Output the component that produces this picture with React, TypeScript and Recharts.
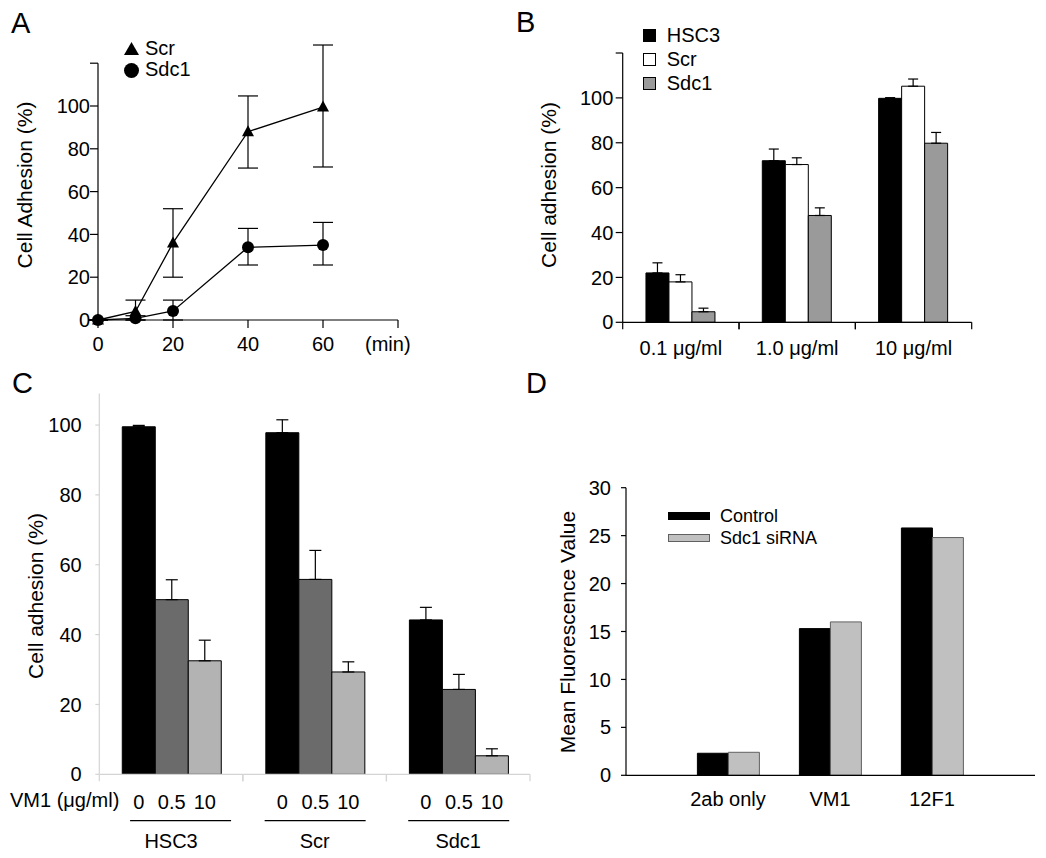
import React from 'react';
import {
  ComposedChart, BarChart, Bar, Line, XAxis, YAxis, ErrorBar, Legend, LabelList, ReferenceLine,
} from 'recharts';

const FONT = '"Liberation Sans", Arial, Helvetica, sans-serif';

// ---- Panel A: adhesion time course ----
const timePoints = [0, 10, 20, 40, 60];
const timeTicks = [0, 20, 40, 60, 80];
const scrMean = [0, 4, 36, 88, 99.5];
const scrError = [[0, 0], [4, 5.3], [16, 16], [17, 16.7], [28, 29]];
const sdc1Mean = [0, 0.8, 4.2, 34, 35];
const sdc1Error = [[0, 0], [0.8, 1.2], [4.2, 5.1], [8.3, 8.8], [9.3, 10.6]];
const adhesionTicks = [0, 20, 40, 60, 80, 100, 120];

// ---- Panel B: coating concentration ----
const coatingLevels = ['0.1 μg/ml', '1.0 μg/ml', '10 μg/ml'];
const hsc3ByCoating = [22, 72, 99.8];
const hsc3ByCoatingErr = [4.5, 5.2, 0.3];
const scrByCoating = [18, 70.3, 105.2];
const scrByCoatingErr = [3.2, 3, 3.2];
const sdc1ByCoating = [4.7, 47.6, 79.8];
const sdc1ByCoatingErr = [1.6, 3.4, 4.8];

// ---- Panel C: VM1 blocking ----
const cellLines = ['HSC3', 'Scr', 'Sdc1'];
const vm1Doses = ['0', '0.5', '10'];
const vm1Dose0 = [99.5, 97.8, 44.2];
const vm1Dose0Err = [0.4, 3.7, 3.6];
const vm1Dose05 = [50, 55.8, 24.3];
const vm1Dose05Err = [5.7, 8.3, 4.3];
const vm1Dose10 = [32.5, 29.3, 5.3];
const vm1Dose10Err = [5.9, 2.9, 2];
const blockingTicks = [0, 20, 40, 60, 80, 100];

// ---- Panel D: mean fluorescence ----
const antibodies = ['2ab only', 'VM1', '12F1'];
const controlMfi = [2.3, 15.3, 25.8];
const sirnaMfi = [2.4, 16, 24.8];
const mfiTicks = [0, 5, 10, 15, 20, 25, 30];

const timeData = timePoints.map((t, i) => ({
  time: t, scr: scrMean[i], scrErr: scrError[i], sdc1: sdc1Mean[i], sdc1Err: sdc1Error[i],
}));

const coatingData = coatingLevels.map((name, i) => ({
  name,
  hsc3: hsc3ByCoating[i], hsc3Err: [0, hsc3ByCoatingErr[i]],
  scr: scrByCoating[i], scrErr: [0, scrByCoatingErr[i]],
  sdc1: sdc1ByCoating[i], sdc1Err: [0, sdc1ByCoatingErr[i]],
}));

const blockingData = cellLines.map((name, i) => ({
  name,
  d0: vm1Dose0[i], d0Err: [0, vm1Dose0Err[i]],
  d05: vm1Dose05[i], d05Err: [0, vm1Dose05Err[i]],
  d10: vm1Dose10[i], d10Err: [0, vm1Dose10Err[i]],
}));

const mfiData = antibodies.map((name, i) => ({ name, control: controlMfi[i], sirna: sirnaMfi[i] }));

const black = { stroke: '#000', strokeWidth: 1.2 };
const grey = { stroke: '#d4d4d4', strokeWidth: 1.2 };
const tickText = { fill: '#000', fontSize: 20 };
const hideTop = (top: number) => (v: number) => (v === top ? '' : String(v));

const triangleDot = (props: any) => {
  const { cx, cy, index } = props;
  if (cx == null || cy == null) return <g key={`t${index}`} />;
  return (
    <polygon key={`t${index}`} fill="#000"
      points={`${cx},${cy - 6.5} ${cx - 6},${cy + 4.5} ${cx + 6},${cy + 4.5}`} />
  );
};

const TimeLegend = () => (
  <div style={{ fontSize: 20, lineHeight: '21.5px' }}>
    <div style={{ display: 'flex', alignItems: 'center', height: 21.5 }}>
      <svg width={15} height={14}><polygon points="7.5,0 0,13 15,13" fill="#000" /></svg>
      <span style={{ marginLeft: 6 }}>Scr</span>
    </div>
    <div style={{ display: 'flex', alignItems: 'center', height: 21.5 }}>
      <svg width={15} height={15}><circle cx={7.5} cy={7.5} r={7.5} fill="#000" /></svg>
      <span style={{ marginLeft: 6 }}>Sdc1</span>
    </div>
  </div>
);

const coatingSeries = [
  { key: 'hsc3', name: 'HSC3', fill: '#000' },
  { key: 'scr', name: 'Scr', fill: '#fff' },
  { key: 'sdc1', name: 'Sdc1', fill: '#9a9a9a' },
];

const CoatingLegend = () => (
  <div style={{ fontSize: 20 }}>
    {coatingSeries.map((s) => (
      <div key={s.key} style={{ display: 'flex', alignItems: 'center', height: 24, lineHeight: '24px' }}>
        <div style={{ width: 13, height: 13, boxSizing: 'border-box', background: s.fill, border: '1px solid #000' }} />
        <span style={{ marginLeft: 11 }}>{s.name}</span>
      </div>
    ))}
  </div>
);

const mfiSeries = [
  { key: 'control', name: 'Control', fill: '#000', stroke: '#000' },
  { key: 'sirna', name: 'Sdc1 siRNA', fill: '#c0c0c0', stroke: '#606060' },
];

const MfiLegend = () => (
  <div style={{ fontSize: 18 }}>
    {mfiSeries.map((s) => (
      <div key={s.key} style={{ display: 'flex', alignItems: 'center', height: 22, lineHeight: '22px' }}>
        <div style={{ width: 42, height: 8, boxSizing: 'border-box', background: s.fill, border: `1px solid ${s.stroke}` }} />
        <span style={{ marginLeft: 10 }}>{s.name}</span>
      </div>
    ))}
  </div>
);

// B: label in the band centre, tick marks on both band edges (payload.offset = half band)
const CoatingTick = (props: any) => {
  const { x, y, payload } = props;
  const half = payload.offset ?? 0;
  return (
    <g>
      <line x1={x - half} x2={x - half} y1={y} y2={y + 7} {...black} />
      <line x1={x + half} x2={x + half} y1={y} y2={y + 7} {...black} />
      <text x={x} y={y + 18} dy="0.71em" textAnchor="middle" fontSize={20} fill="#000">{payload.value}</text>
    </g>
  );
};

// C: grey edge ticks, underline + cell line name in the band centre
const GroupTick = (props: any) => {
  const { x, y, payload, index } = props;
  const half = payload.offset ?? 0;
  // the first underline sits a bit to the right, clear of the "VM1" caption
  const from = index === 0 ? -41 : -50;
  const to = index === 0 ? 60 : 51;
  return (
    <g>
      <line x1={x - half} x2={x - half} y1={y} y2={y + 7} {...grey} />
      <line x1={x + half} x2={x + half} y1={y} y2={y + 7} {...grey} />
      <line x1={x + from} x2={x + to} y1={y + 46.4} y2={y + 46.4} stroke="#000" strokeWidth={1.3} />
      <text x={x} y={y + 73.3} textAnchor="middle" fontSize={20} fill="#000">{payload.value}</text>
    </g>
  );
};

const legendPos = (left: number, top: number) => ({ left, top, width: 'auto', height: 'auto' });

export default function App() {
  return (
    <div style={{ position: 'absolute', left: 0, top: 0, width: 1046, height: 858, background: '#fff', fontFamily: FONT, color: '#000' }}>

      {/* A */}
      <div style={{ position: 'absolute', left: 0, top: 0 }}>
        <ComposedChart width={430} height={370} data={timeData} margin={{ top: 41.8, right: 32, bottom: 20, left: 38 }}>
          <XAxis dataKey="time" type="number" domain={[0, 80]} ticks={timeTicks} interval={0} height={30}
            tickFormatter={hideTop(80)} tickSize={8} tickMargin={9} tick={tickText} axisLine={black} tickLine={black} />
          <YAxis type="number" domain={[0, 130]} ticks={adhesionTicks} interval={0} width={60}
            tickFormatter={hideTop(120)} tickSize={8} tickMargin={0} tick={tickText} axisLine={false} tickLine={black} />
          <ReferenceLine segment={[{ x: 0, y: 0 }, { x: 0, y: 120 }]} stroke="#000" strokeWidth={1.2} />
          <Legend layout="vertical" align="center" verticalAlign="middle" wrapperStyle={legendPos(124, 37.75)} content={TimeLegend} />
          <Line dataKey="scr" type="linear" stroke="#000" strokeWidth={1.3} dot={triangleDot} isAnimationActive={false}>
            <ErrorBar dataKey="scrErr" direction="y" width={10} stroke="#000" strokeWidth={1.2} />
          </Line>
          <Line dataKey="sdc1" type="linear" stroke="#000" strokeWidth={1.3} isAnimationActive={false}
            dot={{ r: 6, fill: '#000', stroke: 'none' }}>
            <ErrorBar dataKey="sdc1Err" direction="y" width={10} stroke="#000" strokeWidth={1.2} />
          </Line>
        </ComposedChart>
      </div>

      {/* B */}
      <div style={{ position: 'absolute', left: 510, top: 0 }}>
        <BarChart width={536} height={370} data={coatingData} margin={{ top: 53, right: 74.3, bottom: 7.7, left: 62.7 }}
          barCategoryGap="20%" barGap={0}>
          <XAxis dataKey="name" height={40} interval={0} tick={CoatingTick} tickLine={false} tickSize={0} tickMargin={0}
            axisLine={black} />
          <YAxis domain={[0, 120]} ticks={adhesionTicks} interval={0} width={50} tickFormatter={hideTop(120)}
            tickSize={7} tickMargin={2.4} tick={tickText} axisLine={black} tickLine={black} />
          <Legend layout="vertical" align="center" verticalAlign="middle" wrapperStyle={legendPos(132.7, 23)} content={CoatingLegend} />
          {coatingSeries.map((s) => (
            <Bar key={s.key} dataKey={s.key} fill={s.fill} stroke="#000" strokeWidth={1} isAnimationActive={false}>
              <ErrorBar dataKey={`${s.key}Err`} direction="y" width={5} stroke="#000" strokeWidth={1.2} />
            </Bar>
          ))}
        </BarChart>
      </div>

      {/* C */}
      <div style={{ position: 'absolute', left: 0, top: 380 }}>
        <BarChart width={540} height={478} data={blockingData} margin={{ top: 13.6, right: 10, bottom: 3.7, left: 39.3 }}
          barCategoryGap="16%" barGap={0}>
          <XAxis dataKey="name" height={80} interval={0} tick={GroupTick} tickLine={false} tickSize={0} tickMargin={0}
            axisLine={grey} />
          <YAxis domain={[0, 109]} ticks={blockingTicks} interval={0} width={60} tickSize={4} tickMargin={13.6} tick={tickText}
            axisLine={grey} tickLine={grey} />
          {[
            { key: 'd0', fill: '#000', dose: vm1Doses[0] },
            { key: 'd05', fill: '#6b6b6b', dose: vm1Doses[1] },
            { key: 'd10', fill: '#b3b3b3', dose: vm1Doses[2] },
          ].map((s) => (
            <Bar key={s.key} dataKey={s.key} fill={s.fill} stroke="#000" strokeWidth={1} isAnimationActive={false}>
              <ErrorBar dataKey={`${s.key}Err`} direction="y" width={6} stroke="#000" strokeWidth={1.2} />
              <LabelList dataKey={s.key} position="bottom" offset={20.7} formatter={() => s.dose} fill="#000" fontSize={20} />
            </Bar>
          ))}
        </BarChart>
      </div>

      {/* D */}
      <div style={{ position: 'absolute', left: 520, top: 440 }}>
        <BarChart width={526} height={418} data={mfiData} margin={{ top: 47.7, right: 11, bottom: 42.7, left: 46 }}
          barCategoryGap="20%" barGap={0}>
          <XAxis dataKey="name" padding={{ left: 51, right: 52 }} height={40} interval={0} tickLine={false}
            tickSize={0} tickMargin={16.7} tick={tickText} axisLine={black} />
          <YAxis domain={[0, 30]} ticks={mfiTicks} interval={0} width={60} tickSize={5} tickMargin={10}
            tick={tickText} axisLine={black} tickLine={black} />
          <Legend layout="vertical" align="center" verticalAlign="middle" wrapperStyle={legendPos(148, 65)} content={MfiLegend} />
          {mfiSeries.map((s) => (
            <Bar key={s.key} dataKey={s.key} fill={s.fill} stroke={s.stroke} strokeWidth={1} isAnimationActive={false} />
          ))}
        </BarChart>
      </div>

      {/* panel letters, axis titles and captions */}
      <svg width={1046} height={858} style={{ position: 'absolute', left: 0, top: 0, pointerEvents: 'none' }}
        fontFamily={FONT} fill="#000">
        <text x={11} y={33.3} fontSize={29}>A</text>
        <text x={516} y={31.7} fontSize={29}>B</text>
        <text x={12} y={393} fontSize={29}>C</text>
        <text x={526} y={393} fontSize={29}>D</text>
        <text x={365} y={351} fontSize={20}>(min)</text>
        <text x={10} y={807} fontSize={20}>VM1 (μg/ml)</text>
        <text transform="translate(32,185) rotate(-90)" textAnchor="middle" fontSize={21}>Cell Adhesion (%)</text>
        <text transform="translate(556,185) rotate(-90)" textAnchor="middle" fontSize={21}>Cell adhesion (%)</text>
        <text transform="translate(43,596) rotate(-90)" textAnchor="middle" fontSize={21}>Cell adhesion (%)</text>
        <text transform="translate(575,632) rotate(-90)" textAnchor="middle" fontSize={21}>Mean Fluorescence Value</text>
      </svg>
    </div>
  );
}
